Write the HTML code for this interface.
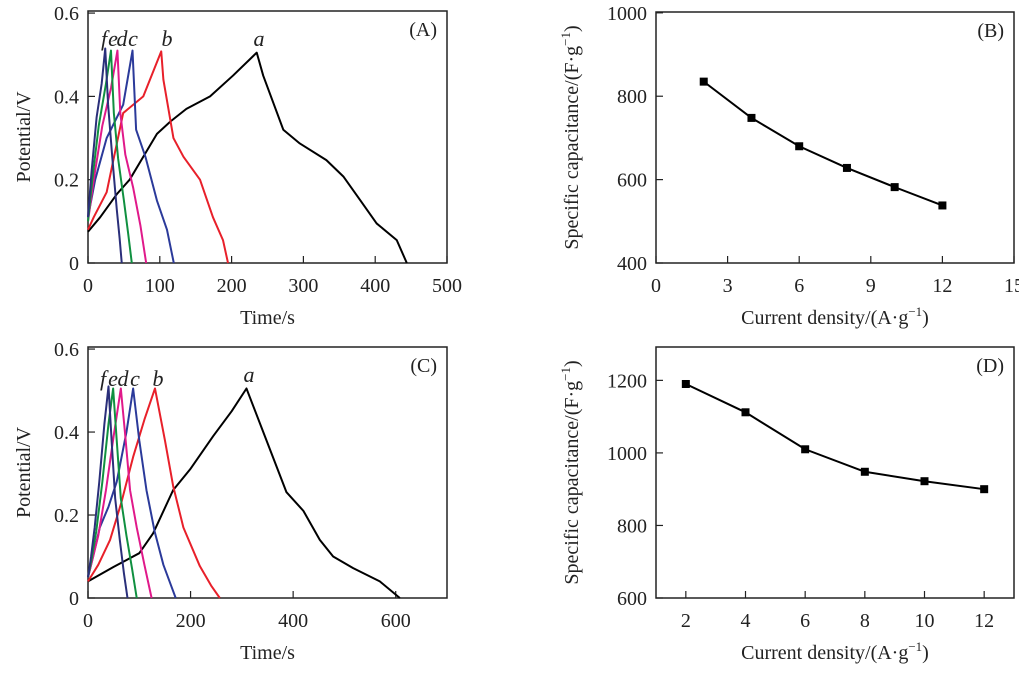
<!DOCTYPE html>
<html><head><meta charset="utf-8"><style>
body{margin:0;background:#fff;width:1019px;height:681px;overflow:hidden}
svg{display:block;font-family:"Liberation Serif",serif}
</style></head><body>
<svg id="fig" width="1019" height="681"></svg>
<script>
// ---- Panel A data (time s, potential V) ----
const aT_A=[0,17,40,58,77,96,115,137,170,202,235,244,272,295,332,356,379,402,430,444];
const aV_A=[0.075,0.11,0.165,0.2,0.255,0.31,0.34,0.37,0.4,0.45,0.505,0.45,0.32,0.287,0.247,0.207,0.151,0.095,0.055,0];
const bT_A=[0,8,26,49,77,102,105,119,133,156,174,188,195];
const bV_A=[0.08,0.11,0.17,0.36,0.40,0.508,0.44,0.30,0.255,0.2,0.11,0.055,0];
const cT_A=[0,10,26,49,62,67,80,96,110,119.5];
const cV_A=[0.11,0.2,0.3,0.38,0.51,0.32,0.255,0.15,0.08,0];
const dT_A=[0,8,20,32,41,45,52,63,73,81];
const dV_A=[0.1,0.2,0.33,0.42,0.51,0.36,0.26,0.18,0.09,0];
const eT_A=[0,6,15,25,32,36,42,50,56,61];
const eV_A=[0.1,0.2,0.33,0.43,0.51,0.36,0.25,0.15,0.07,0];
const fT_A=[0,5,12,19,24,28,34,40,44,47];
const fV_A=[0.11,0.22,0.35,0.43,0.515,0.38,0.25,0.13,0.06,0];
// ---- Panel C data ----
const aT_C=[0,50,100,127,166,199,244,280,309,348,387,420,452,478,517,569,608];
const aV_C=[0.04,0.075,0.108,0.156,0.26,0.31,0.39,0.45,0.505,0.38,0.255,0.21,0.14,0.1,0.072,0.04,0];
const bT_C=[0,20,43,65,88,110,130.6,150,166,186,218,240,257];
const bV_C=[0.04,0.08,0.14,0.23,0.34,0.43,0.505,0.38,0.27,0.17,0.077,0.03,0];
const cT_C=[0,10,23,40,56,75,88,100,114,130,147,162,171];
const cV_C=[0.05,0.1,0.17,0.22,0.28,0.4,0.505,0.38,0.26,0.16,0.08,0.03,0];
const dT_C=[0,10,20,35,50,64,72,82,95,110,124];
const dV_C=[0.05,0.1,0.15,0.26,0.39,0.505,0.4,0.26,0.17,0.08,0];
const eT_C=[0,8,16,28,40,49,56,64,75,86,95];
const eV_C=[0.05,0.1,0.16,0.28,0.42,0.505,0.38,0.24,0.15,0.07,0];
const fT_C=[0,6,13,22,32,40,46,53,62,70,77];
const fV_C=[0.05,0.1,0.17,0.28,0.42,0.51,0.38,0.24,0.14,0.06,0];
// ---- Panel B / D data ----
const densB=[2,4,6,8,10,12];
const capB=[835,748,680,628,582,538];
const densD=[2,4,6,8,10,12];
const capD=[1190,1112,1010,948,922,900];
// tick labels
const ticksA_x=[0,100,200,300,400,500];
const ticksC_x=[0,200,400,600];
const ticksV=[0,0.2,0.4,0.6];
const ticksB_x=[0,3,6,9,12,15];
const ticksB_y=[400,600,800,1000];
const ticksD_x=[2,4,6,8,10,12];
const ticksD_y=[600,800,1000,1200];

const NS="http://www.w3.org/2000/svg";
const svg=document.getElementById('fig');
function mk(tag,attrs,parent,text){const e=document.createElementNS(NS,tag);for(const k in attrs)e.setAttribute(k,attrs[k]);if(text!==undefined)e.textContent=text;(parent||svg).appendChild(e);return e;}
const colors={a:'#000000',b:'#e8202a',c:'#2b3a9a',d:'#e0198a',e:'#109040',f:'#2a2f7a'};

function panel(o){
  const g=mk('g',{});
  
  
  const sx=v=>o.x0+(v-o.xd[0])/(o.xd[1]-o.xd[0])*(o.x1-o.x0);
  const sy=v=>o.y1-(v-o.yd[0])/(o.yd[1]-o.yd[0])*(o.y1-o.y0);
  const box=mk('rect',{x:o.x0,y:o.y0,width:o.x1-o.x0,height:o.y1-o.y0,fill:'none',stroke:'#222','stroke-width':1.5},g);
  
  o.xt.forEach(t=>{const X=sx(t);
    mk('line',{x1:X,x2:X,y1:o.y1,y2:o.y1-7,stroke:'#222','stroke-width':1.2},g);
    const tx=mk('text',{x:X,y:o.y1+29,'text-anchor':'middle','font-size':20,fill:'#222'},g,String(t));
    });
  o.yt.forEach(t=>{const Y=sy(t);
    mk('line',{x1:o.x0,x2:o.x0+7,y1:Y,y2:Y,stroke:'#222','stroke-width':1.2},g);
    const tx=mk('text',{x:o.x0-9,y:Y+7,'text-anchor':'end','font-size':20,fill:'#222'},g,String(t));
    });
  const xl=mk('text',{x:(o.x0+o.x1)/2,y:o.y1+61,'text-anchor':'middle','font-size':20,fill:'#222'},g);
  xl.innerHTML=o.xlab;
  
  const yl=mk('text',{x:0,y:0,'text-anchor':'middle','font-size':20,fill:'#222',transform:`translate(${o.ylx},${(o.y0+o.y1)/2}) rotate(-90)`},g);
  yl.innerHTML=o.ylab;
  
  const pl=mk('text',{x:o.x1-10,y:o.y0+25,'text-anchor':'end','font-size':20,fill:'#222'},g,o.tag);
  
  (o.series||[]).forEach(s=>{
    const p=mk('polyline',{points:s.t.map((t,i)=>sx(t)+','+sy(s.v[i])).join(' '),fill:'none',stroke:colors[s.k],'stroke-width':2,'stroke-linejoin':'round'},g);
    
  });
  (o.labels||[]).forEach(l=>{
    const t=mk('text',{x:l[1],y:l[2],'font-size':22,'font-style':'italic',fill:'#222','text-anchor':'middle'},g,l[0]);
    
  });
  if(o.px){
    const p=mk('polyline',{points:o.px.map((x,i)=>sx(x)+','+sy(o.py[i])).join(' '),fill:'none',stroke:'#000','stroke-width':2},g);
    
    o.px.forEach((x,i)=>{const r=mk('rect',{x:sx(x)-4,y:sy(o.py[i])-4,width:8,height:8,fill:'#000'},g);
      });
  }
}
const capLab='Specific capacitance/(F·g<tspan dy="-8" font-size="13">−1</tspan><tspan dy="8">)</tspan>';
const curLab='Current density/(A·g<tspan dy="-8" font-size="13">−1</tspan><tspan dy="8">)</tspan>';
panel({name:'panel-a',tag:'(A)',x0:88,x1:447,y0:11,y1:263,xd:[0,500],yd:[0,0.605],xt:ticksA_x,yt:ticksV,
  xlab:'Time/s',ylab:'Potential/V',ylx:30,
  series:[{k:'a',t:aT_A,v:aV_A},{k:'b',t:bT_A,v:bV_A},{k:'c',t:cT_A,v:cV_A},{k:'d',t:dT_A,v:dV_A},{k:'e',t:eT_A,v:eV_A},{k:'f',t:fT_A,v:fV_A}],
  labels:[['f',104,46],['e',113,46],['d',122,46],['c',133,46],['b',167,46],['a',259,46]]});
panel({name:'panel-c',tag:'(C)',x0:88,x1:447,y0:347,y1:598,xd:[0,700],yd:[0,0.605],xt:ticksC_x,yt:ticksV,
  xlab:'Time/s',ylab:'Potential/V',ylx:30,
  series:[{k:'a',t:aT_C,v:aV_C},{k:'b',t:bT_C,v:bV_C},{k:'c',t:cT_C,v:cV_C},{k:'d',t:dT_C,v:dV_C},{k:'e',t:eT_C,v:eV_C},{k:'f',t:fT_C,v:fV_C}],
  labels:[['f',103,386],['e',113,386],['d',123,386],['c',135,386],['b',158,386],['a',249,382]]});
panel({name:'panel-b',tag:'(B)',x0:656,x1:1014,y0:12,y1:263,xd:[0,15],yd:[400,1002],xt:ticksB_x,yt:ticksB_y,
  xlab:curLab,ylab:capLab,ylx:578,px:densB,py:capB});
panel({name:'panel-d',tag:'(D)',x0:656,x1:1014,y0:347,y1:598,xd:[1,13],yd:[600,1292],xt:ticksD_x,yt:ticksD_y,
  xlab:curLab,ylab:capLab,ylx:578,px:densD,py:capD});
</script>
</body></html>
